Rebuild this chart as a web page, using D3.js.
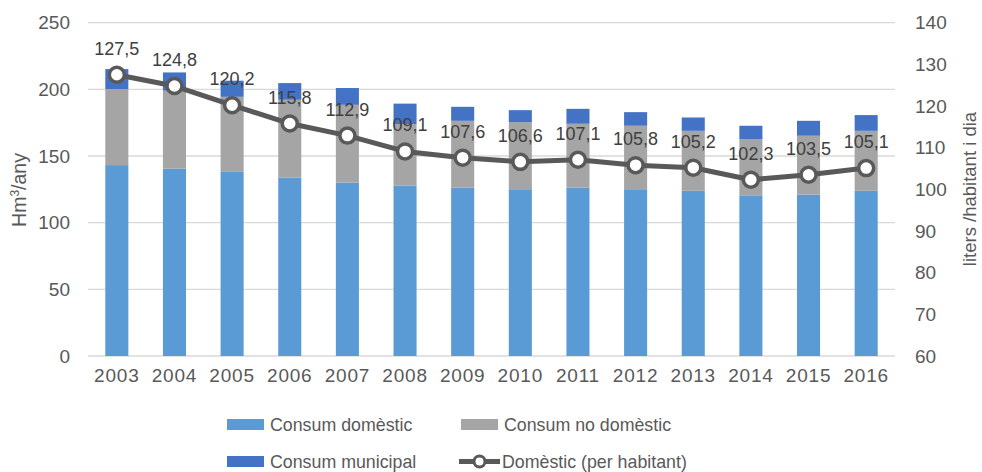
<!DOCTYPE html>
<html><head><meta charset="utf-8">
<script src="https://cdn.jsdelivr.net/npm/d3@7"></script>
<style>body{margin:0;background:#fff}svg{display:block;font-family:"Liberation Sans",Arial,sans-serif}</style>
</head><body><svg id="c" width="982" height="472"></svg>
<script>
const years = ["2003","2004","2005","2006","2007","2008","2009","2010","2011","2012","2013","2014","2015","2016"];
const domestic = [143.2,140.6,138.1,133.9,130.1,127.9,126.4,125.1,126.4,125.1,123.9,120.1,121.1,123.9];
const nonDomestic = [57.0,58.4,56.3,58.3,58.3,46.1,50.0,50.3,47.8,47.6,45.0,42.6,44.1,45.0];
const municipal = [15.0,13.7,12.1,12.5,12.6,15.3,10.5,9.0,11.2,10.2,10.0,10.0,11.2,11.8];
const perCapita = [127.5,124.8,120.2,115.8,112.9,109.1,107.6,106.6,107.1,105.8,105.2,102.3,103.5,105.1];
const leftTicks = [0,50,100,150,200,250];
const rightTicks = [60,70,80,90,100,110,120,130,140];
const seriesNames = ["Consum domèstic","Consum no domèstic","Consum municipal","Domèstic (per habitant)"];
const colors = ["#5B9BD5","#A5A5A5","#4472C4"];

const svg = d3.select("#c");
const txt = "#595959";
const fs = "19px";
const x = d3.scaleBand().domain(years).range([88, 895]).paddingInner(0.6).paddingOuter(0.3);
const y = d3.scaleLinear().domain([0,250]).range([356, 22.7]);
const y2 = d3.scaleLinear().domain([60,140]).range([356, 22.7]);

// gridlines
svg.append("g").selectAll("line").data(leftTicks).join("line")
  .attr("x1", 88).attr("x2", 895).attr("y1", d=>y(d)).attr("y2", d=>y(d))
  .attr("stroke", "#D9D9D9").attr("stroke-width", 1.3);

// left axis
const gl = svg.append("g").attr("transform","translate(82,0)")
  .call(d3.axisLeft(y).tickValues(leftTicks).tickSize(0).tickPadding(12));
gl.select(".domain").remove();
gl.selectAll("text").attr("fill", txt).style("font-size", fs).style("font-family","inherit");

// right axis
const gr = svg.append("g").attr("transform","translate(903,0)")
  .call(d3.axisRight(y2).tickValues(rightTicks).tickSize(0).tickPadding(12));
gr.select(".domain").remove();
gr.selectAll("text").attr("fill", txt).style("font-size", fs).style("font-family","inherit");

// x axis
const gx = svg.append("g").attr("transform","translate(0,356)")
  .call(d3.axisBottom(x).tickSize(0).tickPadding(13));
gx.select(".domain").remove();
gx.selectAll("text").attr("fill", txt).style("font-size", fs).style("letter-spacing","0.8px").style("font-family","inherit");

// stacked bars
const rows = years.map((yr,i)=>({year:yr, d:domestic[i], n:nonDomestic[i], m:municipal[i]}));
const stack = d3.stack().keys(["d","n","m"])(rows);
svg.append("g").selectAll("g").data(stack).join("g").attr("fill",(s,i)=>colors[i])
  .selectAll("rect").data(s=>s).join("rect")
  .attr("x", d=>x(d.data.year)).attr("width", x.bandwidth())
  .attr("y", d=>y(d[1])).attr("height", d=>y(d[0])-y(d[1]));

// line
const cx = d=>x(d)+x.bandwidth()/2;
const line = d3.line().x((d,i)=>cx(years[i])).y(d=>y2(d));
svg.append("path").datum(perCapita).attr("d", line).attr("fill","none")
  .attr("stroke","#595959").attr("stroke-width",5).attr("stroke-linejoin","round");
svg.append("g").selectAll("circle").data(perCapita).join("circle")
  .attr("cx",(d,i)=>cx(years[i])).attr("cy", d=>y2(d)).attr("r",7.5)
  .attr("fill","#fff").attr("stroke","#595959").attr("stroke-width",3.5);
svg.append("g").selectAll("text").data(perCapita).join("text")
  .attr("x",(d,i)=>cx(years[i])).attr("y", d=>y2(d)-20)
  .attr("text-anchor","middle").attr("fill","#404040").style("font-size", "18px")
  .text(d=>d3.format(".1f")(d).replace(".",","));

// axis titles
svg.append("text").attr("transform","translate(26,190) rotate(-90)").attr("text-anchor","middle")
  .attr("fill",txt).style("font-size","19.5px").html('Hm<tspan dy="-7" font-size="12px">3</tspan><tspan dy="7">/any</tspan>');
svg.append("text").attr("transform","translate(976,189) rotate(-90)").attr("text-anchor","middle")
  .attr("fill",txt).style("font-size","18.5px").text("liters /habitant i dia");

// legend
const leg = [
  {name:seriesNames[0], x:227, y:424.5, type:"rect", c:colors[0]},
  {name:seriesNames[1], x:461, y:424.5, type:"rect", c:colors[1]},
  {name:seriesNames[2], x:227, y:461.5, type:"rect", c:colors[2]},
  {name:seriesNames[3], x:459, y:461.5, type:"line", c:"#595959"}
];
const lg = svg.append("g").selectAll("g").data(leg).join("g").attr("transform",d=>`translate(${d.x},${d.y})`);
lg.filter(d=>d.type==="rect").append("rect").attr("x",0).attr("y",-5.5).attr("width",37).attr("height",11).attr("fill",d=>d.c);
const ll = lg.filter(d=>d.type==="line");
ll.append("line").attr("x1",0).attr("x2",41).attr("stroke",d=>d.c).attr("stroke-width",5);
ll.append("circle").attr("cx",20.5).attr("r",5.5).attr("fill","#fff").attr("stroke",d=>d.c).attr("stroke-width",3);
lg.append("text").attr("x",43).attr("dy","0.35em").attr("fill",txt).style("font-size","17.8px").text(d=>d.name);
</script></body></html>
